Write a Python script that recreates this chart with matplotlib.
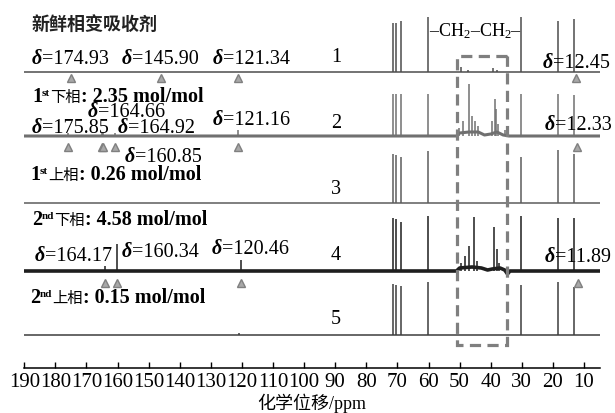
import matplotlib
matplotlib.use("Agg")
import matplotlib.pyplot as plt
from matplotlib.patches import Rectangle

plt.rcParams["mathtext.fontset"] = "custom"
plt.rcParams["mathtext.rm"] = "Liberation Serif"
plt.rcParams["mathtext.it"] = "Liberation Serif:italic"
SERIF = ["Liberation Serif", "DejaVu Serif"]
MIX = ["Liberation Serif", "Noto Sans CJK SC"]
CJK = ["Noto Sans CJK SC", "DejaVu Sans"]

# ---- data (ppm / peak height in px above baseline) ----
PEAK_PPM = [71.35, 70.6, 69.0, 60.1, 30.4, 18.3, 13.2]
S1_H = [49, 49, 51, 55, 55, 51, 53]
S2_H = [42, 42, 42, 42, 42, 42, 41]
S3_H = [49, 48, 46, 52, 46, 53, 49]
S4_H = [53, 52, 49, 55, 55, 53, 53]
S5_H = [51, 50, 49, 53, 50, 53, 48]

S1_MINOR_PPM = [49.7, 47.3, 39.3, 38.0]
S1_MINOR_H = [5, 2, 4, 2]
S2_MINOR_PPM = [175.85, 164.92, 164.66, 160.85, 121.16, 50.2, 48.9, 47.0, 46.0,
                45.0, 44.0, 39.5, 38.7, 38.2, 37.5, 35.5]
S2_MINOR_H = [3, 4, 4, 3, 6, 8, 15, 52, 20, 15, 10, 15, 37, 27, 12, 6]
S4_MINOR_PPM = [164.17, 160.34, 120.46, 49.5, 48.3, 47.0, 45.4, 44.5, 39.0, 38.1, 37.2]
S4_MINOR_H = [5, 27, 11, 8, 15, 25, 54, 10, 44, 22, 8]
S5_MINOR_PPM = [121.0]
S5_MINOR_H = [2]

# broad raised baseline in the CH2 region
S2_HUMP_PPM = [190, 51, 50, 47, 44, 42, 40, 38, 36, 34, 4.85]
S2_HUMP_H = [0, 0, 3, 4, 4, 1, 2, 4, 1, 0, 0]
S4_HUMP_PPM = [190, 51, 50, 46, 43, 41, 39.5, 37, 35.5, 34.6, 33.8, 4.85]
S4_HUMP_H = [0, 0, 3, 4, 3, 1, 2, 3, 1, -3, 0, 0]

MARK1 = [174.93, 145.90, 121.34, 12.45]
MARK2 = [175.85, 164.92, 164.66, 160.85, 121.16, 12.33]
MARK4 = [164.17, 160.34, 120.46, 11.89]

PHASES = [("1", "st", "下相", ": 2.35 mol/mol"),
          ("1", "st", "上相", ": 0.26 mol/mol"),
          ("2", "nd", "下相", ": 4.58 mol/mol"),
          ("2", "nd", "上相", ": 0.15 mol/mol")]
XTICKS = list(range(190, 0, -10))
BOX = (50.8, 34.7)

# ---- layout (y axis = pixels from top) ----
W, H = 615, 414
fig = plt.figure(figsize=(W / 100, H / 100), dpi=100)
ax = fig.add_axes([24.3 / W, (H - 369) / H, (600 - 24.3) / W, 369 / H])
ax.set_xlim(190, 4.85)
ax.set_ylim(369, 0)
px = lambda p: 190 - (p - 24.3) / 3.11   # pixel x -> ppm, for text placement

base = [72.7, 137, 204, 272, 336]
cols = ["#4d4d4d", "#707070", "#5c5c5c", "#1e1e1e", "#3d3d3d"]
heights = [S1_H, S2_H, S3_H, S4_H, S5_H]
minors = [(S1_MINOR_PPM, S1_MINOR_H), (S2_MINOR_PPM, S2_MINOR_H), ([], []),
          (S4_MINOR_PPM, S4_MINOR_H), (S5_MINOR_PPM, S5_MINOR_H)]
humps = {1: (S2_HUMP_PPM, S2_HUMP_H, 2.2), 3: (S4_HUMP_PPM, S4_HUMP_H, 2.6)}

for i, (b, c, hh) in enumerate(zip(base, cols, heights)):
    if i in humps:
        hp, hv, lw = humps[i]
        ax.plot(hp, [b - v for v in hv], color=c, lw=lw)
    else:
        ax.plot([190, 4.85], [b, b], color=c, lw=1.1)
    ax.vlines(PEAK_PPM, b, [b - v for v in hh], color=c, lw=1.1)
    mp, mh = minors[i]
    if mp:
        ax.vlines(mp, b, [b - v for v in mh], color=c, lw=1.1)

for b, off, marks in [(base[0], 6, MARK1), (base[1], 11, MARK2), (base[3], 12, MARK4)]:
    ax.plot(marks, [b + off] * len(marks), ls="none", marker="^", ms=6,
            mfc="#a8a8a8", mec="#808080", mew=1, clip_on=False)

ax.add_patch(Rectangle((BOX[1], 57), BOX[0] - BOX[1], 289, fill=False,
                       ec="#7f7f7f", lw=2.3, ls=(0, (3.5, 2)), zorder=5))

# ---- text ----
FS = 14.5

def chain(x, y, pieces):
    prev = None
    for s, dy, kw in pieces:
        if prev is None:
            prev = ax.text(x, y + dy, s, va="baseline", ha="left", **kw)
        else:
            prev = ax.annotate(s, xy=(1, y + dy), xycoords=(prev, "data"),
                               va="baseline", ha="left", annotation_clip=False, **kw)
    return prev

def delta(xpx, ypx, val):
    chain(px(xpx), ypx + 7, [
        ("δ", 0, dict(family=SERIF, fontsize=FS, style="italic", weight="bold")),
        ("=%.2f" % val, 0, dict(family=SERIF, fontsize=FS))])

ax.text(px(32), 24, "新鲜相变吸收剂", family=CJK, fontsize=13, weight="bold",
        va="center", ha="left", color="#222222")

delta(32, 57, MARK1[0]); delta(122, 57, MARK1[1]); delta(213, 57, MARK1[2])
delta(543, 61, MARK1[3])
delta(88, 110, MARK2[2]); delta(32, 126, MARK2[0]); delta(118, 126, MARK2[1])
delta(213, 118, MARK2[4]); delta(125, 155, MARK2[3]); delta(545, 123, MARK2[5])
delta(35, 254, MARK4[0]); delta(122, 250, MARK4[1]); delta(212, 247, MARK4[2])
delta(545, 255, MARK4[3])

for (n, sup, cj, rest), (xp, yp) in zip(PHASES, [(32, 95), (30, 173), (32, 218), (30, 296)]):
    chain(px(xp), yp + 7, [
        (n, 0, dict(family=SERIF, fontsize=FS, weight="bold")),
        (sup, -6, dict(family=SERIF, fontsize=8, weight="bold")),
        (cj, 0, dict(family=CJK, fontsize=11)),
        (rest, 0, dict(family=SERIF, fontsize=FS, weight="bold"))])

for k, yp in enumerate([58, 123, 190, 256, 320]):
    ax.text(px(336), yp, str(k + 1), family=SERIF, fontsize=FS, va="center", ha="center")

ax.text(px(429), 31, r"–CH$_2$–CH$_2$–", family=SERIF, fontsize=13, va="center", ha="left")

# ---- axes ----
for s in ["top", "left", "right"]:
    ax.spines[s].set_visible(False)
ax.spines["bottom"].set_linewidth(1.1)
ax.set_yticks([])
ax.set_xticks(XTICKS)
ax.tick_params(axis="x", direction="in", length=4, width=1, pad=3, labelsize=15)
for t in ax.get_xticklabels():
    t.set_family(SERIF)
ax.set_xlabel("化学位移/ppm", family=MIX, fontsize=13, labelpad=1)

fig.savefig("out.png", dpi=100)
